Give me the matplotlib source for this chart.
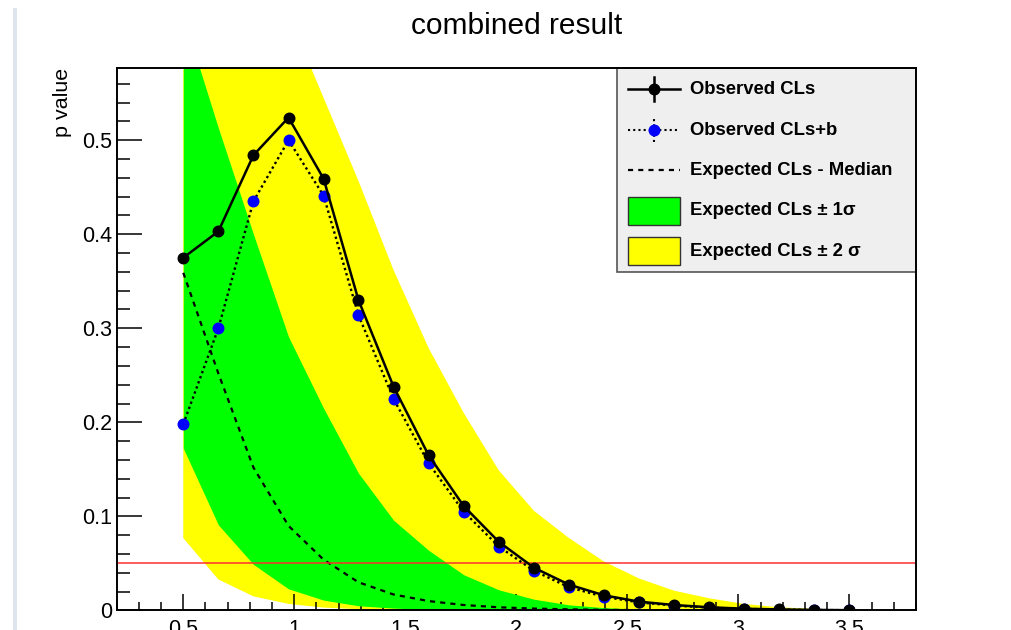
"""
Combined result: observed CLs / CLs+b with expected CLs bands.
"""

import numpy as np
import matplotlib
matplotlib.use("Agg")
import matplotlib.pyplot as plt
from matplotlib.patches import Rectangle
from matplotlib.ticker import MultipleLocator, FuncFormatter

plt.rcParams["font.family"] = ["Liberation Sans", "DejaVu Sans"]

# scan points
mass = [0.5, 0.658, 0.816, 0.974, 1.132, 1.289, 1.447, 1.605, 1.763, 1.921,
        2.079, 2.237, 2.395, 2.553, 2.711, 2.868, 3.026, 3.184, 3.342, 3.5]

obs_cls = [0.375, 0.403, 0.484, 0.524, 0.459, 0.330, 0.238, 0.165, 0.111, 0.073,
           0.0455, 0.0275, 0.0161, 0.0094, 0.0058, 0.0034, 0.0019, 0.0011, 0.0006, 0.0003]

obs_clsb = [0.198, 0.300, 0.435, 0.500, 0.441, 0.314, 0.225, 0.1565, 0.105, 0.068,
            0.0423, 0.0247, 0.0145, 0.0086, 0.0052, 0.0030, 0.0017, 0.0010, 0.0005, 0.0003]

exp_median = [0.359, 0.252, 0.152, 0.090, 0.054, 0.030, 0.017, 0.010, 0.0058, 0.0034,
              0.0020, 0.0012, 0.0007, 0.0004, 0.00024, 0.00014, 0.00008, 0.00005, 0.00003, 0.00002]

exp_1s_hi = [0.632, 0.513, 0.400, 0.291, 0.215, 0.146, 0.096, 0.064, 0.038, 0.022,
             0.012, 0.006, 0.003, 0.0015, 0.0008, 0.0004, 0.0002, 0.0001, 0.00006, 0.00003]
exp_1s_lo = [0.1725, 0.091, 0.049, 0.023, 0.011, 0.005, 0.0025, 0.0012, 0.0006, 0.0003,
             0.00015, 0.00008, 0.00004, 0.00002, 0.00001, 0.0, 0.0, 0.0, 0.0, 0.0]

exp_2s_hi = [0.90, 0.81, 0.72, 0.634, 0.545, 0.4567, 0.362, 0.279, 0.210, 0.149,
             0.106, 0.077, 0.052, 0.034, 0.021, 0.013, 0.0069, 0.0034, 0.0017, 0.001]
exp_2s_lo = [0.077, 0.033, 0.015, 0.007, 0.003, 0.0014, 0.0007, 0.0003, 0.00015, 0.00008,
             0.00004, 0.00002, 0.00001, 0.0, 0.0, 0.0, 0.0, 0.0, 0.0, 0.0]

alpha_level = 0.05

GREEN = "#00ff00"
YELLOW = "#ffff00"

fig = plt.figure(figsize=(10.11, 6.30), dpi=100)
fig.patch.set_facecolor("white")
ax = fig.add_axes([0.1154, 0.031, 0.7906, 0.8606])

# bande attese
ax.fill_between(mass, exp_2s_lo, exp_2s_hi, color=YELLOW, lw=0, zorder=1)
ax.fill_between(mass, exp_1s_lo, exp_1s_hi, color=GREEN, lw=0, zorder=2)
ax.plot(mass, exp_median, color="black", lw=1.6, ls=(0, (2.3, 2.3)), zorder=3)

ax.axhline(alpha_level, color="#ff3030", lw=1.3, alpha=0.85, zorder=4)

ax.plot(mass, obs_clsb, color="black", lw=1.7, ls=(0, (1.0, 1.3)), zorder=5)
ax.plot(mass, obs_clsb, "o", color="#0000ff", ms=7.6, mec="#0000ff", zorder=6)
ax.plot(mass, obs_cls, "-o", color="black", lw=1.8, ms=7.6, zorder=7)

ax.set_xlim(0.2, 3.8)
ax.set_ylim(0, 1.1 * max(obs_cls))

for side in ["top", "right", "bottom", "left"]:
    ax.spines[side].set_linewidth(1.4)
    ax.spines[side].set_zorder(20)

fmt = FuncFormatter(lambda v, _: "{:g}".format(round(v, 3)))
ax.xaxis.set_major_locator(MultipleLocator(0.5))
ax.xaxis.set_minor_locator(MultipleLocator(0.1))
ax.yaxis.set_major_locator(MultipleLocator(0.1))
ax.yaxis.set_minor_locator(MultipleLocator(0.02))
ax.xaxis.set_major_formatter(fmt)
ax.yaxis.set_major_formatter(fmt)

ax.tick_params(axis="both", which="both", direction="in", top=False, right=False,
               width=1.1, labelsize=15.5, colors="black")
ax.tick_params(axis="y", which="major", length=18, pad=3.5)
ax.tick_params(axis="y", which="minor", length=9)
ax.tick_params(axis="x", which="major", length=11.5, pad=6.5)
ax.tick_params(axis="x", which="minor", length=5.8)
for t in ax.get_xticklines() + ax.get_yticklines():
    t.set_zorder(20)

ax.set_ylabel("p value", fontsize=15.4, loc="top")
ax.yaxis.set_label_coords(-0.056, 1.0)

fig.text(0.5108, 0.946, "combined result", fontsize=21.5, ha="center", va="baseline")

# legenda in stile ROOT
leg_x0, leg_y0 = 0.626, 0.625
ax.add_patch(Rectangle((leg_x0, leg_y0), 1 - leg_x0, 1 - leg_y0, transform=ax.transAxes,
                       facecolor="#efefef", edgecolor="#555555", lw=1.2,
                       zorder=15, clip_on=False))

rows = [0.9612, 0.886, 0.8124, 0.7373, 0.6628]
sx0, sx1 = 0.6397, 0.7047
sxc = 0.5 * (sx0 + sx1)
tx = 0.7172
kw = dict(transform=ax.transAxes, clip_on=False, zorder=16)

ax.plot([sx0, sx1], [rows[0]] * 2, color="black", lw=1.8, **kw)
ax.plot([sxc, sxc], [rows[0] - 0.022, rows[0] + 0.022], color="black", lw=1.8, **kw)
ax.plot([sxc], [rows[0]], "o", color="black", ms=7.6, **kw)

ax.plot([sx0, sx1], [rows[1]] * 2, color="black", lw=1.5, ls=(0, (1.0, 1.5)), **kw)
ax.plot([sxc, sxc], [rows[1] - 0.022, rows[1] + 0.022], color="black", lw=1.5,
        ls=(0, (1.0, 1.5)), **kw)
ax.plot([sxc], [rows[1]], "o", color="#0000ff", ms=7.6, **kw)

ax.plot([sx0, sx1], [rows[2]] * 2, color="black", lw=1.6, ls=(0, (2.3, 2.3)), **kw)

ph = 0.052
for r, col in [(rows[3], GREEN), (rows[4], YELLOW)]:
    ax.add_patch(Rectangle((sx0, r - ph / 2), sx1 - sx0, ph, transform=ax.transAxes,
                           facecolor=col, edgecolor="#333333", lw=1.0,
                           zorder=16, clip_on=False))

labels = ["Observed CLs", "Observed CLs+b", "Expected CLs - Median",
          "Expected CLs \u00b1 1\u03c3", "Expected CLs \u00b1 2 \u03c3"]
for r, lab in zip(rows, labels):
    ax.text(tx, r, lab, fontsize=13.3, fontweight="bold", ha="left", va="center",
            transform=ax.transAxes, zorder=17)

# bordo sinistro della finestra
fig.patches.append(Rectangle((13 / 1011, 0), 4 / 1011, 1 - 8 / 630,
                             transform=fig.transFigure, facecolor="#dfe5ee",
                             edgecolor="none", figure=fig))

fig.savefig("out.png", dpi=100)
